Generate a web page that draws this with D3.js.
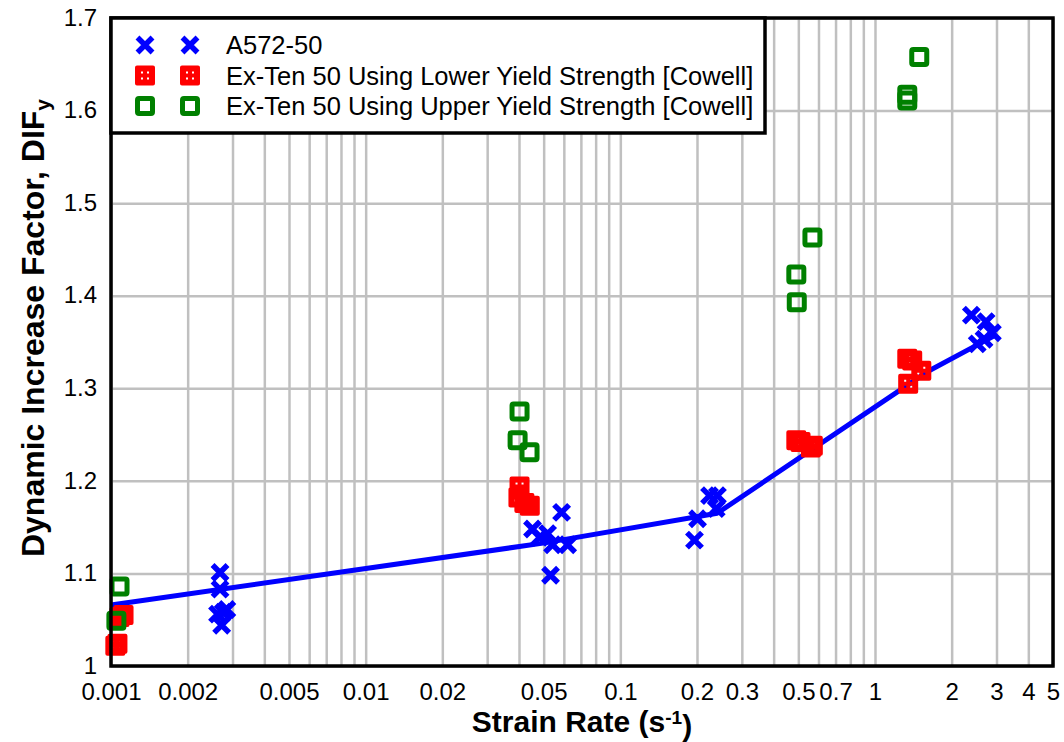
<!DOCTYPE html>
<html lang="en">
<head>
<meta charset="UTF-8">
<title>Dynamic Increase Factor vs Strain Rate</title>
<script src="https://d3js.org/d3.v7.min.js"></script>
<style>
    body { margin: 0; background: #fff; font-family: "Liberation Sans", Arial, sans-serif; }
    svg text { font-family: "Liberation Sans", Arial, sans-serif; fill: #000; }
</style>
</head>
<body>
<script>
// A572-50 test points [strain rate, DIF]
const a572 = [
    [0.00268, 1.101], [0.00268, 1.083], [0.00262, 1.056], [0.00285, 1.061],
    [0.00272, 1.044], [0.00276, 1.058],
    [0.0452, 1.148], [0.0482, 1.139], [0.0518, 1.143], [0.0542, 1.131],
    [0.0588, 1.166], [0.0621, 1.131], [0.0532, 1.098],
    [0.1955, 1.136], [0.201, 1.159], [0.224, 1.184], [0.2406, 1.184], [0.238, 1.170],
    [2.39, 1.379], [2.73, 1.372], [2.89, 1.360], [2.52, 1.348], [2.68, 1.353]
];
// Ex-Ten 50, lower yield strength [Cowell]
const lowerYield = [
    [0.00104, 1.022], [0.00106, 1.024], [0.00108, 1.053], [0.00112, 1.055],
    [0.0402, 1.194], [0.0398, 1.182], [0.0441, 1.173], [0.0420, 1.176],
    [0.491, 1.244], [0.51, 1.242], [0.57, 1.238], [0.56, 1.236],
    [1.339, 1.332], [1.52, 1.319], [1.35, 1.305], [1.40, 1.330]
];
// Ex-Ten 50, upper yield strength [Cowell]
const upperYield = [
    [0.00108, 1.086], [0.00105, 1.049],
    [0.0402, 1.275], [0.0395, 1.244], [0.0440, 1.231],
    [0.491, 1.423], [0.493, 1.393], [0.568, 1.463],
    [1.339, 1.617], [1.339, 1.611], [1.492, 1.658]
];
// A572-50 fit line vertices
const fitLine = [[0.001, 1.066], [0.0505, 1.133], [0.24, 1.165], [1.63, 1.319], [3.0, 1.358]];

const xTickLabels = [0.001, 0.002, 0.005, 0.01, 0.02, 0.05, 0.1, 0.2, 0.3, 0.5, 0.7, 1, 2, 3, 4, 5];
const yTicks = [1, 1.1, 1.2, 1.3, 1.4, 1.5, 1.6, 1.7];
const legendLabels = ["A572-50",
    "Ex-Ten 50 Using Lower Yield Strength [Cowell]",
    "Ex-Ten 50 Using Upper Yield Strength [Cowell]"];

const margin = { top: 18, right: 11, bottom: 76, left: 111 },
      width = 1064 - margin.left - margin.right,
      height = 742 - margin.top - margin.bottom;

const root = d3.select("body").append("svg")
    .attr("width", 1064)
    .attr("height", 742);
const svg = root.append("g")
    .attr("transform", `translate(${margin.left},${margin.top})`);

const x = d3.scaleLog().domain([0.001, 5]).range([0, width]);
const y = d3.scaleLinear().domain([1, 1.7]).range([height, 0]);

// grid
svg.append("g")
    .attr("transform", `translate(0,${height})`)
    .call(d3.axisBottom(x).tickValues(x.ticks()).tickSize(-height).tickFormat(""))
    .call(g => g.select(".domain").remove())
    .call(g => g.selectAll("line").attr("stroke", "#c0c0c0").attr("stroke-width", 2.5));
svg.append("g")
    .call(d3.axisLeft(y).tickValues(yTicks).tickSize(-width).tickFormat(""))
    .call(g => g.select(".domain").remove())
    .call(g => g.selectAll("line").attr("stroke", "#c0c0c0").attr("stroke-width", 2.5));

// tick labels
svg.append("g")
    .attr("transform", `translate(0,${height})`)
    .call(d3.axisBottom(x).tickValues(xTickLabels).tickSize(0).tickPadding(17)
        .tickFormat(d => String(d)))
    .call(g => g.select(".domain").remove())
    .call(g => g.selectAll("text").style("font-size", "24px"));
svg.append("g")
    .call(d3.axisLeft(y).tickValues(yTicks).tickSize(0).tickPadding(14)
        .tickFormat(d => d === 1 ? "1" : d.toFixed(1)))
    .call(g => g.select(".domain").remove())
    .call(g => g.selectAll("text").style("font-size", "24px").attr("dy", "0.3em"));

// fit line
svg.append("path")
    .datum(fitLine)
    .attr("fill", "none")
    .attr("stroke", "#0000ff")
    .attr("stroke-width", 5)
    .attr("stroke-linejoin", "round")
    .attr("d", d3.line().x(d => x(d[0])).y(d => y(d[1])));

// marker shapes
const xMark = "M-7.5,-7.5L7.5,7.5M-7.5,7.5L7.5,-7.5";
const redMark = "M-8,-10H8Q10,-10 10,-8V8Q10,10 8,10H-8Q-10,10 -10,8V-8Q-10,-10 -8,-10Z " +
    "M-4,-4h2v2h-2Z M2,-4h2v2h-2Z M-4,2h2v2h-2Z M2,2h2v2h-2Z";

function drawX(g) {
    g.append("path").attr("d", xMark)
        .attr("stroke", "#0000ff").attr("stroke-width", 5.5).attr("fill", "none");
}
function drawRed(g) {
    g.append("path").attr("d", redMark)
        .attr("fill", "#ff0000").attr("fill-rule", "evenodd");
}
function drawGreen(g) {
    g.append("rect").attr("x", -7.5).attr("y", -7.5).attr("width", 15).attr("height", 15)
        .attr("rx", 1.5)
        .attr("fill", "none").attr("stroke", "#008000").attr("stroke-width", 5);
}

const series = [[a572, drawX], [lowerYield, drawRed], [upperYield, drawGreen]];
series.forEach(([data, draw]) => {
    svg.append("g").selectAll("g")
        .data(data)
        .join("g")
        .attr("transform", d => `translate(${x(d[0])},${y(d[1])})`)
        .each(function() { draw(d3.select(this)); });
});

// frame
svg.append("rect")
    .attr("width", width).attr("height", height)
    .attr("fill", "none").attr("stroke", "#000").attr("stroke-width", 3.5);

// legend
const legend = svg.append("g");
legend.append("rect")
    .attr("x", 0).attr("y", 0).attr("width", 654).attr("height", 115)
    .attr("fill", "#fff").attr("stroke", "#000").attr("stroke-width", 3.5);
const drawers = [drawX, drawRed, drawGreen];
legendLabels.forEach((label, i) => {
    const row = legend.append("g").attr("transform", `translate(0,${27 + i * 30.5})`);
    [34, 79].forEach(mx => drawers[i](row.append("g").attr("transform", `translate(${mx},0)`)));
    row.append("text")
        .attr("x", 115).attr("dy", "0.36em")
        .style("font-size", "25.5px")
        .text(label);
});

// axis titles
const xt = svg.append("text")
    .attr("x", width / 2).attr("y", height + 66)
    .attr("text-anchor", "middle")
    .style("font-size", "30px").style("font-weight", "bold");
xt.append("tspan").text("Strain Rate (s");
xt.append("tspan").attr("dy", "-0.4em").style("font-size", "19px").text("-1");
xt.append("tspan").attr("dy", "0.4em").text(")");

const yt = svg.append("text")
    .attr("transform", `translate(${44 - margin.left},${328 - margin.top}) rotate(-90)`)
    .attr("text-anchor", "middle")
    .style("font-size", "32px").style("font-weight", "bold");
yt.append("tspan").text("Dynamic Increase Factor, DIF");
yt.append("tspan").attr("dy", "0.3em").style("font-size", "21px").text("y");
</script>
</body>
</html>
